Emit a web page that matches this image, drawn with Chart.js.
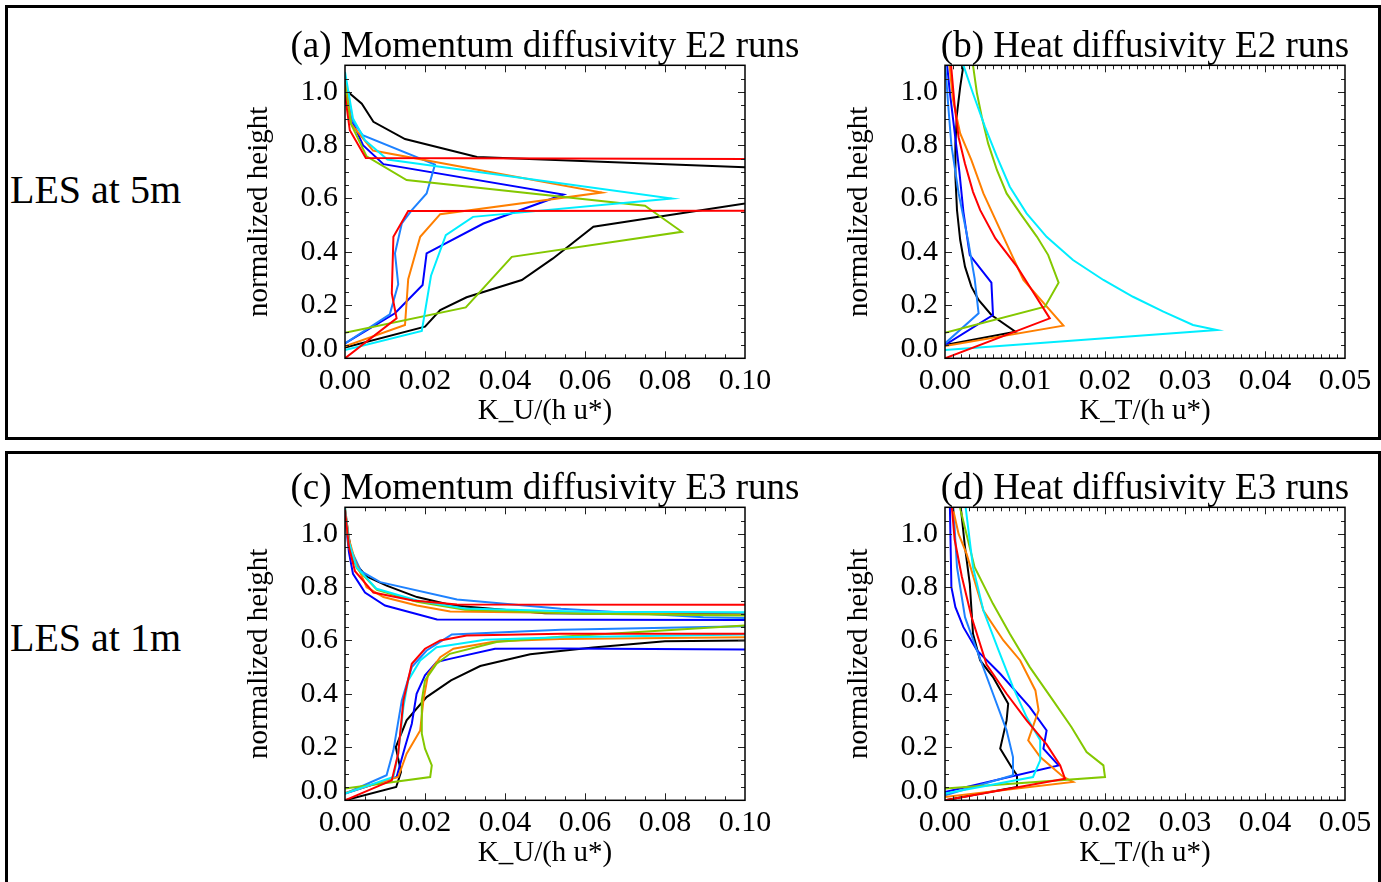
<!DOCTYPE html>
<html>
<head>
<meta charset="utf-8">
<script src="https://cdn.jsdelivr.net/npm/chart.js@4.4.0/dist/chart.umd.min.js"></script>
<style>
  body { margin: 0; background: #fff; overflow: hidden; width: 1381px; height: 882px; position: relative; font-family: 'Liberation Serif', serif; }
  .box { position: absolute; border: 3px solid #000; box-sizing: border-box; }
  .les { position: absolute; left: 10px; font-size: 40px; line-height: 40px; color: #000; white-space: nowrap; }
  canvas { position: absolute; }
</style>
</head>
<body>
<div class="box" style="left:5px;top:5px;width:1376px;height:435px"></div>
<div class="box" style="left:5px;top:451px;width:1376px;height:445px"></div>
<div class="les" style="top:170px">LES at 5m</div>
<div class="les" style="top:618px">LES at 1m</div>
<canvas id="panelA" width="630" height="425" style="left:230px;top:10px"></canvas>
<canvas id="panelB" width="630" height="425" style="left:830px;top:10px"></canvas>
<canvas id="panelC" width="630" height="425" style="left:230px;top:452px"></canvas>
<canvas id="panelD" width="630" height="425" style="left:830px;top:452px"></canvas>
<script>
// tick labels
var yTicks = [0, 0.2, 0.4, 0.6, 0.8, 1.0];
var uTicks = [0, 0.02, 0.04, 0.06, 0.08, 0.10];
var tTicks = [0, 0.01, 0.02, 0.03, 0.04, 0.05];

// [K, normalized height]; points past the x range are clipped by the axes
// (a) momentum, E2
var aBlack  = [[0,1.02],[0.001,0.997],[0.0042,0.956],[0.0071,0.888],[0.015,0.823],[0.033,0.756],[0.147,0.69],[0.0621,0.494],[0.052,0.375],[0.0442,0.294],[0.0304,0.229],[0.0238,0.181],[0.02,0.119],[0,0.04]];
var aRed    = [[0,0.99],[0.0012,0.856],[0.0052,0.752],[0.2,0.745],[0.2,0.556],[0.0158,0.553],[0.0121,0.456],[0.0117,0.244],[0.0129,0.15],[0,0]];
var aBlue   = [[0,1.03],[0.0015,0.9],[0.0045,0.8],[0.0096,0.729],[0.0546,0.615],[0.0346,0.506],[0.0204,0.394],[0.0194,0.275],[0.0125,0.169],[0,0.056]];
var aDodger = [[0,1.04],[0.0015,0.9],[0.0044,0.838],[0.0225,0.727],[0.0204,0.619],[0.0167,0.556],[0.0142,0.506],[0.0125,0.394],[0.0133,0.278],[0.0112,0.165],[0,0.056]];
var aCyan   = [[0,1.075],[0.002,0.9],[0.005,0.819],[0.0106,0.746],[0.0817,0.6],[0.032,0.531],[0.0252,0.4625],[0.0215,0.31],[0.0192,0.103],[0,0.031]];
var aOrange = [[0,1.05],[0.0015,0.88],[0.007,0.78],[0.0642,0.6225],[0.0238,0.541],[0.0188,0.456],[0.0158,0.297],[0.015,0.125],[0,0.045]];
var aGreen  = [[0,1.02],[0.0015,0.88],[0.0054,0.758],[0.0154,0.669],[0.075,0.5725],[0.0842,0.475],[0.0417,0.381],[0.0302,0.191],[0,0.096]];

// (b) heat, E2
var bBlack  = [[0.0024,1.12],[0.0023,1.1],[0.0019,1.019],[0.0015,0.919],[0.0013,0.806],[0.0013,0.681],[0.0015,0.556],[0.0019,0.444],[0.0025,0.344],[0.0033,0.269],[0.0042,0.219],[0.0058,0.1625],[0.0088,0.1],[0,0.05]];
var bRed    = [[0.0007,1.12],[0.0012,0.95],[0.0017,0.83],[0.0025,0.73],[0.0035,0.625],[0.0044,0.556],[0.0063,0.45],[0.009,0.344],[0.0102,0.2875],[0.0131,0.15],[0,0]];
var bBlue   = [[0.0002,1.12],[0.0006,1.0],[0.0012,0.85],[0.0018,0.7],[0.0023,0.55],[0.0031,0.3875],[0.0058,0.284],[0.006,0.1625],[0,0.05]];
var bDodger = [[0,1.12],[0.0004,0.95],[0.0008,0.8],[0.0017,0.62],[0.0029,0.44],[0.0037,0.3],[0.0042,0.169],[0,0.056]];
var bCyan   = [[0.0022,1.12],[0.0023,1.1],[0.0035,0.994],[0.005,0.869],[0.0065,0.756],[0.0081,0.644],[0.0102,0.544],[0.0127,0.456],[0.016,0.369],[0.0198,0.294],[0.0235,0.231],[0.0273,0.175],[0.031,0.125],[0.034,0.106],[0,0.031]];
var bOrange = [[0.0005,1.12],[0.001,0.97],[0.0019,0.844],[0.0033,0.744],[0.0048,0.619],[0.0071,0.469],[0.0098,0.294],[0.0148,0.1225],[0,0.046]];
var bGreen  = [[0.0035,1.12],[0.0035,1.1],[0.004,0.994],[0.0046,0.906],[0.0054,0.806],[0.0065,0.706],[0.0077,0.619],[0.0094,0.544],[0.0115,0.456],[0.0129,0.3875],[0.0142,0.284],[0.0125,0.194],[0,0.096]];

// (c) momentum, E3
var cBlack  = [[0,1.09],[0.0008,1.0],[0.002,0.9],[0.0054,0.84],[0.0104,0.806],[0.018,0.763],[0.027,0.731],[0.05,0.702],[0.1,0.698],[0.3,0.698],[0.3,0.6],[0.1,0.6],[0.08,0.597],[0.062,0.574],[0.0463,0.548],[0.0338,0.504],[0.0265,0.45],[0.0204,0.3875],[0.0154,0.3],[0.0127,0.2],[0.014,0.106],[0.0128,0.05],[0,0]];
var cRed    = [[0,1.09],[0.001,0.95],[0.0025,0.86],[0.0071,0.78],[0.017,0.75],[0.028,0.735],[0.1,0.734],[0.3,0.734],[0.3,0.625],[0.1,0.625],[0.054,0.625],[0.0304,0.619],[0.0238,0.6],[0.02,0.569],[0.0167,0.5125],[0.0146,0.375],[0.0133,0.175],[0.0117,0.075],[0,0]];
var cBlue   = [[0,1.07],[0.001,0.93],[0.002,0.85],[0.005,0.78],[0.01,0.731],[0.023,0.679],[0.1,0.677],[0.3,0.677],[0.3,0.566],[0.1,0.566],[0.0538,0.57],[0.0375,0.569],[0.0262,0.531],[0.0229,0.519],[0.02,0.469],[0.0179,0.4],[0.0167,0.2875],[0.015,0.2],[0.0129,0.0875],[0,0.025]];
var cDodger = [[0,1.08],[0.0012,0.95],[0.004,0.86],[0.0088,0.819],[0.028,0.754],[0.054,0.719],[0.0896,0.6875],[0.1,0.684],[0.3,0.684],[0.3,0.653],[0.1,0.653],[0.054,0.64],[0.0267,0.6225],[0.0204,0.5625],[0.0167,0.5],[0.0142,0.375],[0.0121,0.1875],[0.0104,0.094],[0,0.025]];
var cCyan   = [[0,1.1],[0.001,0.97],[0.0029,0.875],[0.0079,0.794],[0.018,0.75],[0.03,0.72],[0.06,0.708],[0.1,0.706],[0.3,0.706],[0.3,0.622],[0.1,0.622],[0.0538,0.6125],[0.035,0.603],[0.0229,0.575],[0.0188,0.525],[0.0158,0.45],[0.0146,0.35],[0.0133,0.175],[0.0121,0.0875],[0,0.025]];
var cOrange = [[0,1.1],[0.001,0.98],[0.0025,0.9],[0.0054,0.8],[0.0096,0.763],[0.018,0.731],[0.0263,0.709],[0.1,0.696],[0.3,0.696],[0.3,0.612],[0.1,0.612],[0.0538,0.606],[0.0379,0.5975],[0.0271,0.569],[0.0238,0.5375],[0.0208,0.475],[0.0196,0.375],[0.0188,0.2625],[0.0154,0.175],[0.0133,0.0875],[0,0.0275]];
var cGreen  = [[0,1.08],[0.001,0.95],[0.003,0.87],[0.008,0.79],[0.018,0.745],[0.03,0.715],[0.06,0.7],[0.1,0.694],[0.3,0.694],[0.3,0.656],[0.1,0.656],[0.0538,0.614],[0.0379,0.594],[0.0262,0.55],[0.0229,0.5125],[0.02,0.45],[0.0192,0.375],[0.0192,0.25],[0.02,0.194],[0.0217,0.131],[0.0213,0.0875],[0,0.044]];

// (d) heat, E3
var dBlack  = [[0.0019,1.12],[0.0025,0.95],[0.0031,0.8125],[0.0035,0.625],[0.0044,0.525],[0.006,0.4625],[0.0079,0.3625],[0.0077,0.3],[0.0069,0.194],[0.0083,0.125],[0.009,0.094],[0.009,0.05],[0,0]];
var dRed    = [[0.0008,1.12],[0.0012,0.98],[0.0021,0.84],[0.0033,0.69],[0.0052,0.51],[0.0077,0.4],[0.0102,0.3],[0.0127,0.21],[0.0144,0.131],[0.015,0.081],[0,0]];
var dBlue   = [[0.0006,1.12],[0.0008,0.8],[0.0013,0.725],[0.0023,0.65],[0.004,0.5625],[0.0069,0.475],[0.0106,0.35],[0.0127,0.2625],[0.0123,0.194],[0.0142,0.131],[0,0.031]];
var dDodger = [[0.001,1.12],[0.0015,0.875],[0.0025,0.6875],[0.004,0.5625],[0.006,0.4],[0.0077,0.2625],[0.0085,0.1625],[0.0085,0.094],[0,0.019]];
var dCyan   = [[0.0025,1.12],[0.0035,0.875],[0.0048,0.7125],[0.0067,0.5625],[0.0085,0.425],[0.0102,0.3125],[0.0119,0.225],[0.0119,0.15],[0.011,0.0875],[0,0.025]];
var dOrange = [[0.0008,1.12],[0.0017,1.0],[0.0027,0.925],[0.0048,0.7125],[0.0073,0.6],[0.0094,0.525],[0.0113,0.4125],[0.0117,0.3375],[0.0104,0.225],[0.0119,0.1625],[0.0148,0.0875],[0.016,0.069],[0,0.0125]];
var dGreen  = [[0.0017,1.12],[0.0037,0.875],[0.006,0.7375],[0.0081,0.625],[0.0106,0.5],[0.0135,0.375],[0.0158,0.275],[0.0177,0.181],[0.0198,0.131],[0.02,0.0875],[0,0.044]];

var runColors = ['#ff0000', '#00eeff', '#84c800', '#ff7f00', '#1e82ff', '#0000ff', '#000000'];

var serif = 'Liberation Serif';

// IDL style frame: box plus inward major/minor ticks on all four sides
var idlFrame = {
  id: 'idlFrame',
  afterDatasetsDraw: function(chart, args, o) {
    var ctx = chart.ctx, a = chart.chartArea, x = chart.scales.x, y = chart.scales.y;
    ctx.save();
    ctx.strokeStyle = '#222';
    ctx.lineWidth = 1;
    ctx.beginPath();
    var nx = Math.round((x.max - x.min) / o.xMinor);
    for (var i = 1; i < nx; i++) {
      var px = Math.round(x.getPixelForValue(x.min + i * o.xMinor)) + 0.5;
      var lx = (i % o.xEvery === 0) ? 7 : 4;
      ctx.moveTo(px, a.bottom); ctx.lineTo(px, a.bottom - lx);
      ctx.moveTo(px, a.top); ctx.lineTo(px, a.top + lx);
    }
    var ny = Math.round((y.max - y.min) / o.yMinor);
    for (var j = 1; j < ny; j++) {
      var py = Math.round(y.getPixelForValue(y.min + j * o.yMinor)) + 0.5;
      var ly = (j % o.yEvery === 0) ? 7 : 4;
      ctx.moveTo(a.left, py); ctx.lineTo(a.left + ly, py);
      ctx.moveTo(a.right, py); ctx.lineTo(a.right - ly, py);
    }
    ctx.stroke();
    ctx.strokeStyle = '#000';
    ctx.lineWidth = 1.5;
    ctx.strokeRect(a.left, a.top, a.right - a.left, a.bottom - a.top);
    ctx.restore();
  }
};

function makePanel(id, title, xMax, xTicks, xMinor, xEvery, xTitle, runs) {
  return new Chart(document.getElementById(id), {
    type: 'scatter',
    data: {
      datasets: runs.map(function(run, k) {
        return {
          data: run.map(function(p) { return {x: p[0], y: p[1]}; }),
          showLine: true,
          borderColor: runColors[k],
          borderWidth: 2,
          pointRadius: 0,
          tension: 0
        };
      })
    },
    options: {
      responsive: false,
      animation: false,
      events: [],
      layout: { padding: 0 },
      plugins: {
        legend: { display: false },
        tooltip: { enabled: false },
        title: {
          display: true,
          text: title,
          color: '#000',
          font: { family: serif, size: 37, weight: 'normal', lineHeight: 1 },
          padding: { top: 18.3, bottom: 0 }
        },
        idlFrame: { xMinor: xMinor, xEvery: xEvery, yMinor: 0.05, yEvery: 4 }
      },
      scales: {
        x: {
          type: 'linear',
          min: 0,
          max: xMax,
          afterBuildTicks: function(s) { s.ticks = xTicks.map(function(v) { return {value: v}; }); },
          afterFit: function(s) { s.height = 76.7; },
          ticks: {
            callback: function(v) { return v.toFixed(2); },
            color: '#000',
            font: { family: serif, size: 30 },
            padding: 5,
            maxRotation: 0,
            autoSkip: false
          },
          grid: { display: false, drawTicks: false },
          border: { display: false },
          title: {
            display: true,
            text: xTitle,
            color: '#000',
            font: { family: serif, size: 29 },
            padding: { top: 0, bottom: 6.6 }
          }
        },
        y: {
          type: 'linear',
          min: 0,
          max: 1.1,
          afterBuildTicks: function(s) { s.ticks = yTicks.map(function(v) { return {value: v}; }); },
          afterFit: function(s) { s.width = 115; },
          ticks: {
            // the 0.0 label sits a little above its tick in the original
            callback: function(v) { return v === 0 ? ['0.0', ''] : v.toFixed(1); },
            color: '#000',
            font: { family: serif, size: 30, lineHeight: 0.6 },
            padding: 7,
            autoSkip: false
          },
          grid: { display: false, drawTicks: false },
          border: { display: false },
          title: {
            display: true,
            text: 'normalized height',
            color: '#000',
            font: { family: serif, size: 29 },
            padding: { top: 12, bottom: 0 }
          }
        },
        // empty right-hand axis, same width as the left one, so the title centres over the plot
        yRight: {
          type: 'linear',
          position: 'right',
          min: 0,
          max: 1.1,
          afterFit: function(s) { s.width = 115; },
          ticks: { display: false },
          grid: { display: false, drawTicks: false },
          border: { display: false }
        }
      }
    },
    plugins: [idlFrame]
  });
}

makePanel('panelA', '(a) Momentum diffusivity E2 runs', 0.1, uTicks, 0.005, 4, 'K_U/(h u*)',
  [aRed, aCyan, aGreen, aOrange, aDodger, aBlue, aBlack]);
makePanel('panelB', '(b) Heat diffusivity E2 runs', 0.05, tTicks, 0.001, 10, 'K_T/(h u*)',
  [bRed, bCyan, bGreen, bOrange, bDodger, bBlue, bBlack]);
makePanel('panelC', '(c) Momentum diffusivity E3 runs', 0.1, uTicks, 0.005, 4, 'K_U/(h u*)',
  [cRed, cCyan, cGreen, cOrange, cDodger, cBlue, cBlack]);
makePanel('panelD', '(d) Heat diffusivity E3 runs', 0.05, tTicks, 0.001, 10, 'K_T/(h u*)',
  [dRed, dCyan, dGreen, dOrange, dDodger, dBlue, dBlack]);
</script>
</body>
</html>
